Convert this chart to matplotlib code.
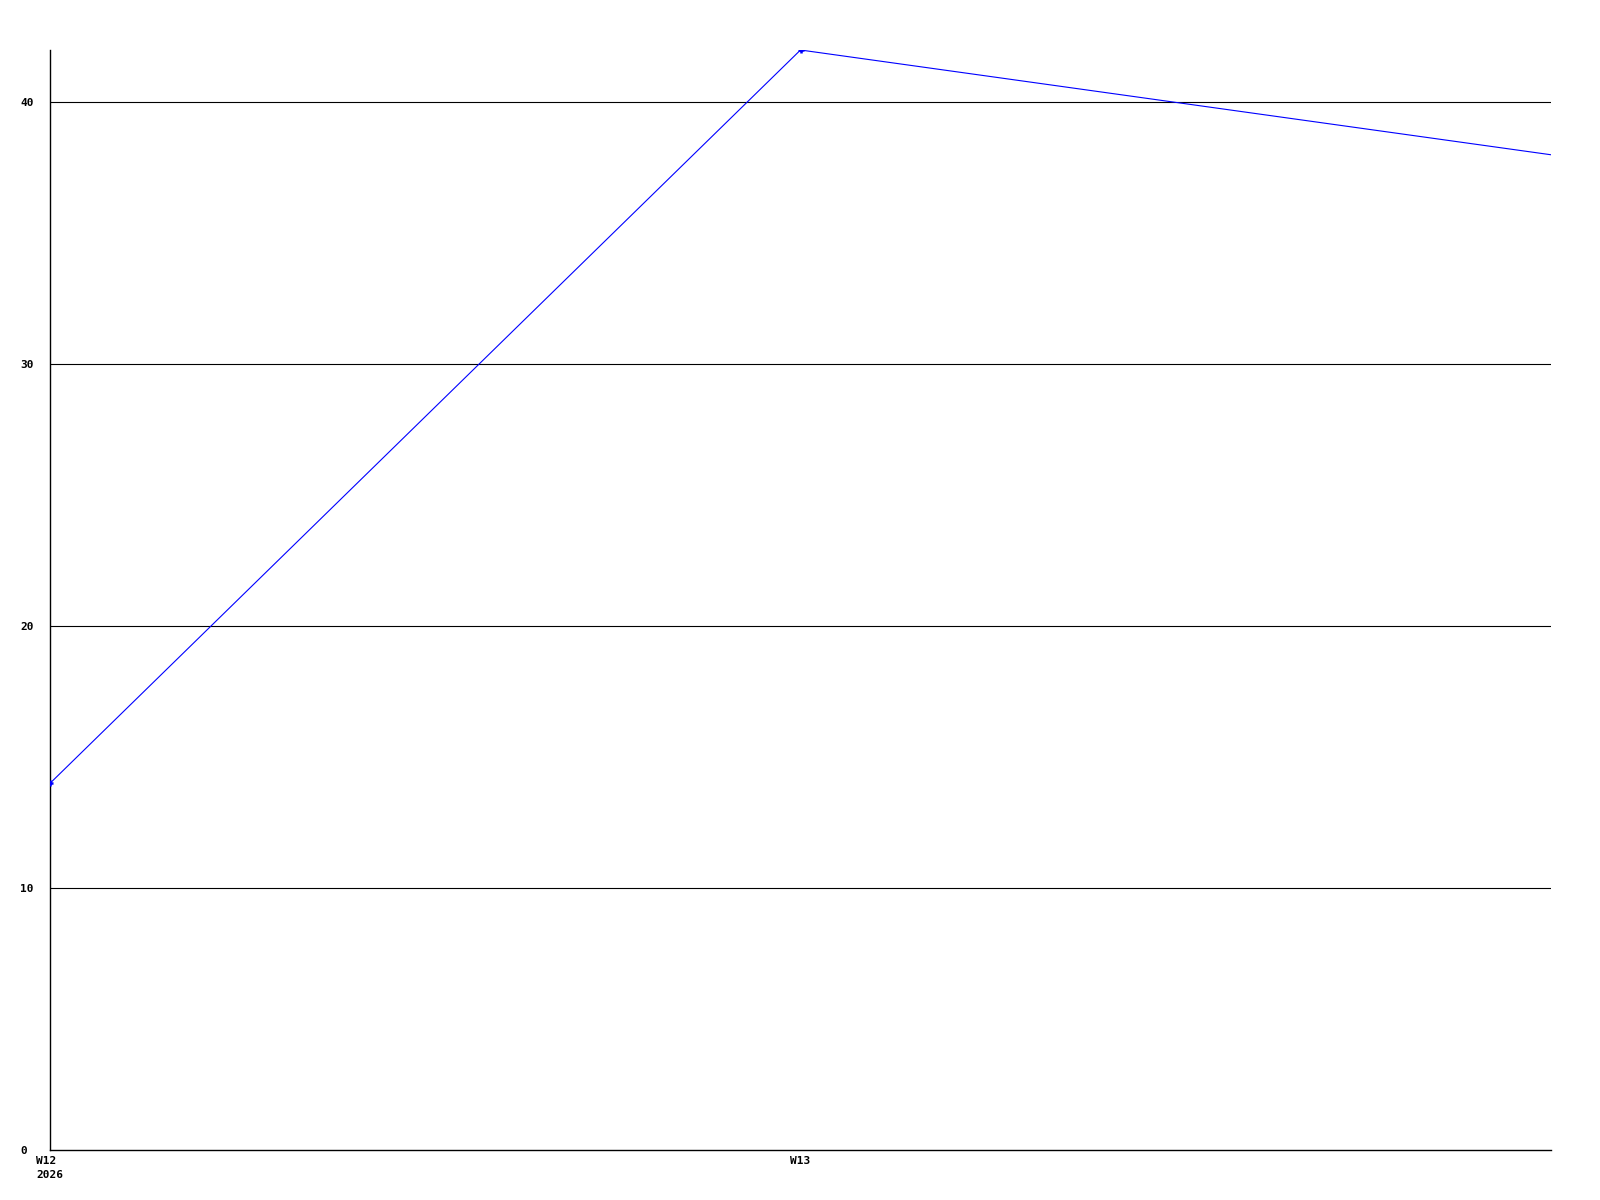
import numpy as np
import matplotlib
matplotlib.use("Agg")
import matplotlib.pyplot as plt

# weekly values
weeks = ["W12\n2026", "W13", ""]
values = [14, 42, 38]
y_ticks = [0, 10, 20, 30, 40]

fig = plt.figure(figsize=(16, 12), dpi=100)
ax = fig.add_axes([50/1600, 1 - 1150/1200, 1501/1600, 1100/1200])

x = np.arange(len(values))
ax.plot(x, values, color="blue", linewidth=0.8, marker="+", markersize=5,
        markeredgewidth=1.8, markevery=[0, 1], zorder=3)

ax.set_xlim(0, 2)
ax.set_ylim(0, 42)
ax.set_yticks(y_ticks)
ax.set_yticklabels([str(v) for v in y_ticks], ha="left",
                   family="DejaVu Sans Mono", weight="bold", fontsize=8)
ax.set_xticks(x[:2])
ax.set_xticklabels(weeks[:2], family="DejaVu Sans Mono", weight="bold",
                   fontsize=8, ma="left", va="top", linespacing=1.6)
ax.tick_params(axis="y", length=0, pad=21.6)
ax.tick_params(axis="x", length=0, pad=4)

for v in y_ticks[1:]:
    ax.axhline(v, color="black", linewidth=0.8, zorder=1)

for s in ["top", "right"]:
    ax.spines[s].set_visible(False)
for s in ["left", "bottom"]:
    ax.spines[s].set_color("black")
    ax.spines[s].set_linewidth(1.0)

fig.savefig("out.png", dpi=100)
